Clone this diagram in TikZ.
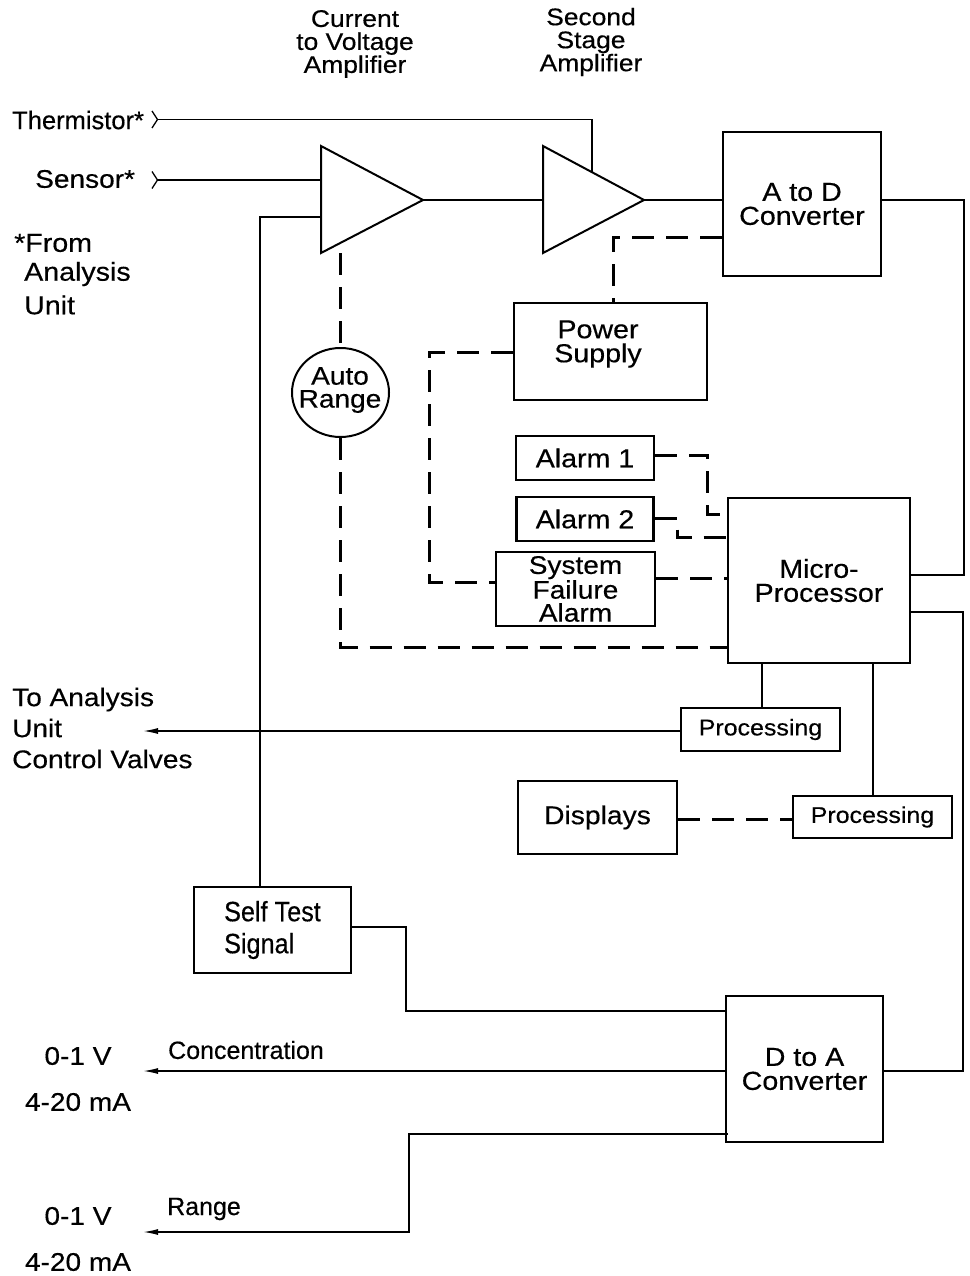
\documentclass[tikz,border=0pt]{standalone}
\usepackage{fontspec}
\setmainfont{Liberation Sans}
\newfontfamily\fA{Liberation Sans}[FakeBold=0.4]
\newfontfamily\fB{Liberation Sans}[FakeStretch=1.1,FakeBold=0.4]
\newfontfamily\fE{Liberation Sans}[FakeStretch=0.9,FakeBold=0.4]
\usetikzlibrary{arrows.meta,shapes.geometric}
\tikzset{
  blk/.style={draw, line width=2.2pt, inner sep=0pt, align=center},
  txt/.style={inner sep=0pt, align=center},
  conn/.style={line width=1.5pt},
  dsh/.style={line width=3pt, dash pattern=on 22pt off 12pt},
  arr/.style={conn, -{Latex[length=15pt,width=6pt]}},
  amp/.style={line width=2pt, line join=miter},
  chev/.style={line width=1.3pt},
  tm/.style={font=\fB\fontsize{26}{24}\selectfont},
}
\begin{document}
\begin{tikzpicture}[x=1pt,y=-1pt]
\useasboundingbox (0,0) rectangle (969,1276);

% titles
\node[txt, font=\fB\fontsize{24}{23}\selectfont] (t1) at (355,44) {Current\\to Voltage\\Amplifier};
\node[txt, font=\fB\fontsize{24}{23}\selectfont] (t2) at (591,42) {Second\\Stage\\Amplifier};

% inputs
\node[txt, anchor=west, font=\fA\fontsize{25.5}{28}\selectfont] (therm) at (12,120) {Thermistor*};
\node[txt, anchor=west, font=\fB\fontsize{25.5}{28}\selectfont] (sens) at (35,179) {Sensor*};
\node[txt, anchor=west, font=\fB\fontsize{26}{28}\selectfont] (from1) at (14,243) {*From};
\node[txt, anchor=west, font=\fB\fontsize{26}{28}\selectfont] (from2) at (24,274) {Analysis};
\node[txt, anchor=west, font=\fB\fontsize{26}{28}\selectfont] (from3) at (24,305) {Unit};

% amplifiers
\draw[amp] (321,146) -- (423,200) coordinate (a1o) -- (321,253) -- cycle;
\draw[amp] (543,146) -- (644,200) coordinate (a2o) -- (543,253) -- cycle;
\coordinate (a1in1) at (321,180);
\coordinate (a1in2) at (321,217);
\coordinate (a1bot) at (340.5,253);
\coordinate (a2in) at (543,200);
\coordinate (a2top) at (592,172);

% chevrons and input lines
\draw[chev] (152,111) -- (157.5,119.5) coordinate (thin) -- (152,128);
\draw[chev] (152,171.5) -- (157.5,180) coordinate (sin) -- (152,188.5);
\draw[conn] (thin) -- (592,119.5) -- (a2top);
\draw[conn] (sin) -- (a1in1);

% blocks
\node[blk, minimum width=158, minimum height=144, tm] (adc) at (802,204) {A to D\\Converter};
\node[blk, minimum width=193, minimum height=97] (ps) at (610.5,351.5) {};
\node[txt, tm] (pst) at (598,344) {Power\\Supply};
\node[draw, ellipse, line width=2pt, inner sep=0pt, minimum width=97, minimum height=89] (ar) at (340.5,392.5) {};
\node[txt, font=\fB\fontsize{25.5}{23}\selectfont] (art) at (340,390) {Auto\\Range};
\node[blk, minimum width=138, minimum height=44, font=\fB\fontsize{26}{24}\selectfont] (al1) at (585,458) {Alarm 1};
\node[blk, minimum width=137, minimum height=44, font=\fB\fontsize{26}{24}\selectfont] (al2) at (585,519) {Alarm 2};
\node[blk, minimum width=159, minimum height=74, font=\fB\fontsize{25.5}{23}\selectfont] (sfa) at (575.5,589) {System\\Failure\\Alarm};
\node[blk, minimum width=182, minimum height=165, tm] (mp) at (819,580.5) {Micro-\\Processor};
\node[blk, minimum width=159, minimum height=43, font=\fB\fontsize{22.7}{24}\selectfont] (pr1) at (760.5,729.5) {Processing};
\node[blk, minimum width=159, minimum height=42, font=\fB\fontsize{22.7}{24}\selectfont] (pr2) at (872.5,817) {Processing};
\node[blk, minimum width=159, minimum height=73, font=\fB\fontsize{25.7}{24}\selectfont] (disp) at (597.5,817.5) {Displays};
\node[blk, minimum width=157, minimum height=86, align=left, font=\fE\fontsize{28}{32}\selectfont] (st) at (272.5,930) {Self Test\\Signal};
\node[blk, minimum width=157, minimum height=146, tm] (dac) at (804.5,1069) {D to A\\Converter};

% outputs
\node[txt, anchor=west, align=left, font=\fB\fontsize{25.5}{31}\selectfont] (toau) at (12,728) {To Analysis\\Unit\\Control Valves};
\node[txt, font=\fA\fontsize{25}{28}\selectfont] (conc) at (246,1050) {Concentration};
\node[txt, font=\fA\fontsize{25}{28}\selectfont] (rng) at (204,1209) {Range};
\node[txt, font=\fB\fontsize{25.5}{28}\selectfont] (v1) at (78,1056) {0-1 V};
\node[txt, font=\fB\fontsize{25.5}{28}\selectfont] (ma1) at (78,1102) {4-20 mA};
\node[txt, font=\fB\fontsize{25.5}{28}\selectfont] (v2) at (78,1216) {0-1 V};
\node[txt, font=\fB\fontsize{25.5}{28}\selectfont] (ma2) at (78,1262) {4-20 mA};
\coordinate (outau) at (143,731);
\coordinate (outc) at (143,1071);
\coordinate (outr) at (143,1232);

% solid connectors
\draw[conn] (a1o) -- (a2in);
\draw[conn] (a2o) -- (a2o -| adc.west);
\draw[conn] (adc.east |- 0,200) -- (964,200) -- (964,575) -- (mp.east |- 0,575);
\draw[conn] (mp.east |- 0,612) -- (963,612) -- (963,1071) -- (dac.east |- 0,1071);
\draw[conn] (st.north -| 260,0) -- (260,217) -- (a1in2);
\draw[conn] (mp.south -| 762,0) -- (pr1.north -| 762,0);
\draw[conn] (mp.south -| 873,0) -- (pr2.north -| 873,0);
\draw[arr] (pr1.west |- 0,731) -- (outau);
\draw[conn] (st.east |- 0,927) -- (406,927) -- (406,1011) -- (dac.west |- 0,1011);
\draw[arr] (dac.west |- 0,1071) -- (outc);
\draw[arr] (728,1134) -- (409,1134) -- (409,1232) -- (outr);

% dashed connectors
\draw[dsh] (a1bot) -- (ar.north);
\draw[dsh] (ar.south) -- (340.5,647) -- (mp.west |- 0,647);
\draw[dsh] (adc.west |- 0,237) -- (613,237) -- (ps.north -| 613,0);
\draw[dsh] (ps.west |- 0,352) -- (429,352) -- (429,582) -- (sfa.west |- 0,582);
\draw[dsh] (al1.east |- 0,455) -- (707,455) -- (707,514) -- (mp.west |- 0,514);
\draw[dsh] (al2.east |- 0,518) -- (677,518) -- (677,537) -- (mp.west |- 0,537);
\draw[dsh] (sfa.east |- 0,578) -- (mp.west |- 0,578);
\draw[dsh] (disp.east |- 0,819) -- (pr2.west |- 0,819);
\end{tikzpicture}
\end{document}
